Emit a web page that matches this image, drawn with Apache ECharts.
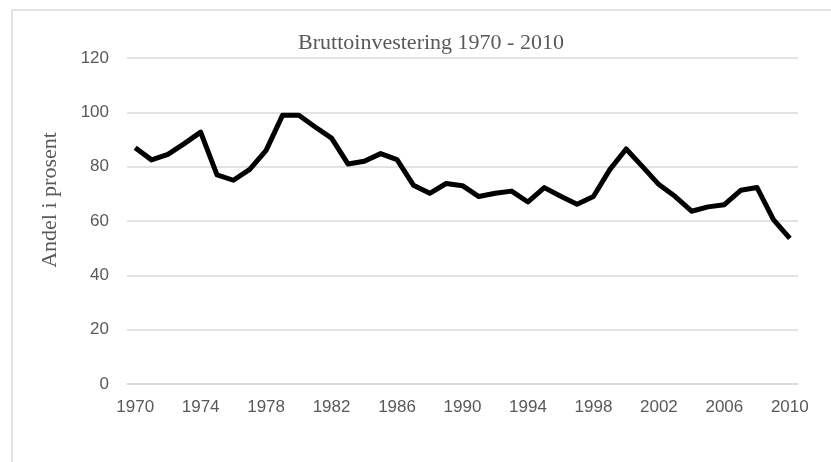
<!DOCTYPE html>
<html>
<head>
<meta charset="utf-8">
<script src="https://cdn.jsdelivr.net/npm/echarts@6/dist/echarts.min.js"></script>
<style>
  html, body { margin: 0; padding: 0; background: #fff; }
  #main { width: 831px; height: 462px; }
</style>
</head>
<body>
<div id="main"></div>
<script>
// år 1970 - 2010
var years = [];
for (var y = 1970; y <= 2010; y++) years.push(String(y));

// andel i prosent
var values = [
  87, 82.5, 84.5, 88.5, 92.7, 77, 75, 79, 86, 98.9,
  98.9, 94.6, 90.5, 81, 82, 84.8, 82.6, 73.2, 70.2, 73.8,
  73, 69, 70.2, 71, 67, 72.3, 69.1, 66.2, 69, 78.9,
  86.5, 80, 73.4, 69, 63.6, 65.2, 66, 71.3, 72.3, 60.5, 53.6
];

var yTicks = { min: 0, max: 120, step: 20 };

var chart = echarts.init(document.getElementById("main"));
chart.setOption({
  animation: false,
  title: {
    text: "Bruttoinvestering 1970 - 2010",
    left: 426,
    textAlign: "center",
    top: 27,
    textStyle: {
      fontFamily: "Liberation Serif",
      fontWeight: "normal",
      fontSize: 22,
      color: "#595959"
    }
  },
  grid: { left: 127, right: 33, top: 58, bottom: 78 },
  graphic: [
    {
      type: "rect",
      shape: { x: 12, y: 10, width: 900, height: 500 },
      style: { fill: "none", stroke: "#d9d9d9", lineWidth: 1.5 },
      silent: true
    }
  ],
  xAxis: {
    type: "category",
    data: years,
    boundaryGap: true,
    axisLine: { lineStyle: { color: "#d9d9d9", width: 1.5 } },
    axisTick: { show: false },
    axisLabel: {
      interval: 3,
      margin: 15,
      fontFamily: "Liberation Sans",
      fontSize: 17,
      color: "#595959"
    }
  },
  yAxis: {
    type: "value",
    min: yTicks.min,
    max: yTicks.max,
    interval: yTicks.step,
    name: "Andel i prosent",
    nameLocation: "middle",
    nameGap: 66,
    nameTextStyle: {
      fontFamily: "Liberation Serif",
      fontSize: 22,
      color: "#595959",
      padding: [0, 0, 0, 42]
    },
    axisLine: { show: false },
    axisTick: { show: false },
    axisLabel: {
      margin: 18,
      fontFamily: "Liberation Sans",
      fontSize: 17,
      color: "#595959"
    },
    splitLine: { lineStyle: { color: "#d9d9d9", width: 1.5 } }
  },
  series: [
    {
      type: "line",
      data: values,
      symbol: "none",
      lineStyle: { color: "#000", width: 5, join: "round" }
    }
  ]
});
</script>
</body>
</html>
